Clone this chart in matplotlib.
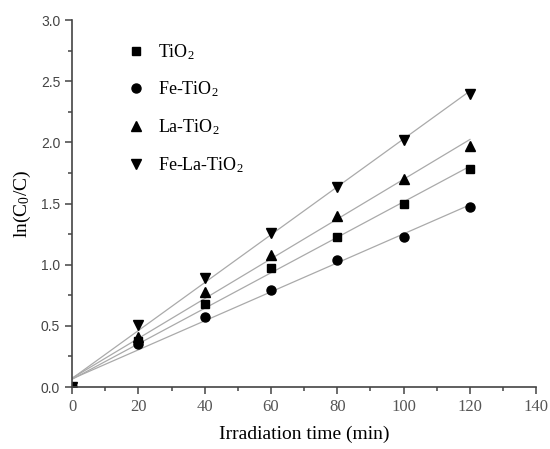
import numpy as np
import matplotlib
matplotlib.use("Agg")
import matplotlib.pyplot as plt
from matplotlib.ticker import MultipleLocator, FormatStrFormatter

time_min = [0, 20, 40, 60, 80, 100, 120]
tio2 = [0.0, 0.38, 0.68, 0.97, 1.23, 1.50, 1.78]
fe_tio2 = [0.0, 0.35, 0.57, 0.79, 1.04, 1.23, 1.47]
la_tio2 = [0.0, 0.41, 0.78, 1.08, 1.40, 1.70, 1.97]
fe_la_tio2 = [0.0, 0.51, 0.89, 1.26, 1.64, 2.02, 2.40]

series = [
    ("TiO$_2$", tio2, "s", 6),
    ("Fe-TiO$_2$", fe_tio2, "o", 6.5),
    ("La-TiO$_2$", la_tio2, "^", 7.5),
    ("Fe-La-TiO$_2$", fe_la_tio2, "v", 7.5),
]

serif = "Liberation Serif"
sans = "Liberation Sans"

plt.rcParams["mathtext.fontset"] = "custom"
plt.rcParams["mathtext.rm"] = serif
plt.rcParams["mathtext.it"] = serif + ":italic"
plt.rcParams["mathtext.default"] = "rm"

fig = plt.figure(figsize=(5.5, 4.49), dpi=100)
ax = fig.add_axes([0.131, 0.138, 0.844, 0.817])

x = np.array(time_min)
for label, vals, marker, ms in series:
    k, b = np.polyfit(x, vals, 1)
    ax.plot(x, k * x + b, color="#aaaaaa", lw=0.9, zorder=1)
    ax.plot(x, vals, linestyle="none", marker=marker, ms=ms, color="black",
            label=label, zorder=2)

ax.set_xlim(0, 140)
ax.set_ylim(0, 3.0)
ax.xaxis.set_major_locator(MultipleLocator(20))
ax.xaxis.set_minor_locator(MultipleLocator(10))
ax.yaxis.set_major_locator(MultipleLocator(0.5))
ax.yaxis.set_minor_locator(MultipleLocator(0.25))
ax.yaxis.set_major_formatter(FormatStrFormatter("%.1f"))
ax.spines["top"].set_visible(False)
ax.spines["right"].set_visible(False)
for s in ("left", "bottom"):
    ax.spines[s].set_color("#444444")
    ax.spines[s].set_linewidth(1.2)
ax.tick_params(which="both", direction="out", color="#444444", width=1.1)
ax.tick_params(which="major", length=5)
ax.tick_params(which="minor", length=3)

for t in ax.get_xticklabels():
    t.set_fontfamily(serif)
    t.set_fontsize(12)
    t.set_color("#555555")
for t in ax.get_yticklabels():
    t.set_fontfamily(sans)
    t.set_fontsize(10)
    t.set_color("#444444")

ax.set_xlabel("Irradiation time (min)", fontfamily=serif, fontsize=14, labelpad=8)
ax.set_ylabel("ln(C$_0$/C)", fontfamily=serif, fontsize=14, labelpad=6)

ax.legend(loc="upper left", bbox_to_anchor=(0.08, 0.985), frameon=False,
          prop={"family": serif, "size": 13}, handletextpad=0.6,
          labelspacing=1.0, handlelength=1.2)

fig.savefig("out.png", dpi=100)
